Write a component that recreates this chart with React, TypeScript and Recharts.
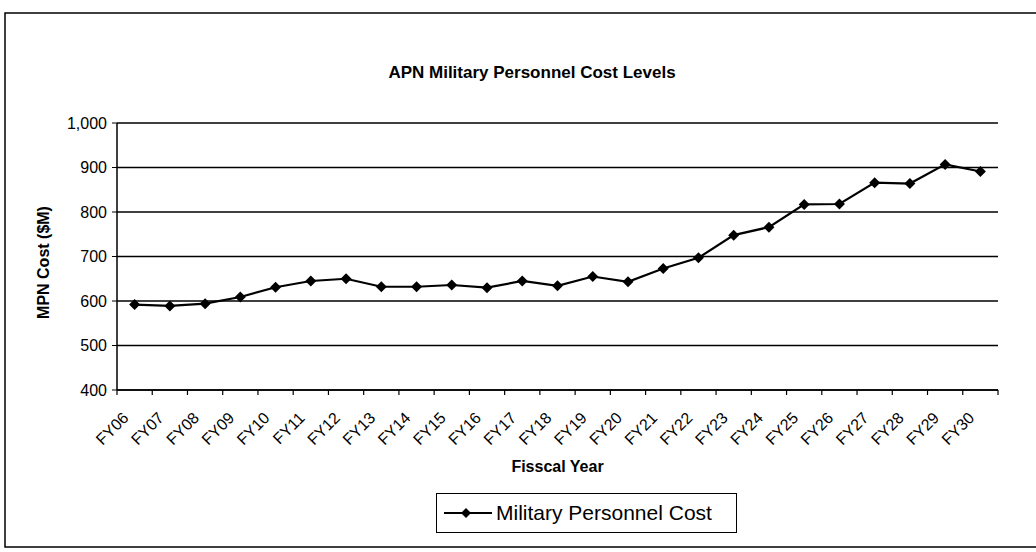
import React from 'react'
import { LineChart, Line, XAxis, YAxis, CartesianGrid, Legend } from 'recharts'

const years = [
  'FY06', 'FY07', 'FY08', 'FY09', 'FY10', 'FY11', 'FY12', 'FY13', 'FY14', 'FY15',
  'FY16', 'FY17', 'FY18', 'FY19', 'FY20', 'FY21', 'FY22', 'FY23', 'FY24', 'FY25',
  'FY26', 'FY27', 'FY28', 'FY29', 'FY30',
]
// MPN cost in $M
const mpnCost = [
  592, 589, 594, 609, 631, 645, 650, 632, 632, 636,
  630, 645, 634, 655, 643, 673, 697, 748, 766, 817,
  818, 866, 864, 907, 891,
]
const yTicks = [400, 500, 600, 700, 800, 900, 1000]

const FONT = '"Liberation Sans", Arial, Helvetica, sans-serif'

const data = years.map((year, i) => ({ year, cost: mpnCost[i] }))

function formatCost(v: number) {
  return v.toLocaleString('en-US')
}

function Diamond(props: any) {
  const { cx, cy } = props
  if (cx == null || cy == null) return null
  const r = 5.5
  return <path d={`M${cx},${cy - r}L${cx + r},${cy}L${cx},${cy + r}L${cx - r},${cy}Z`} fill="#000" />
}

// rotated year labels, tick marks sit between categories like Excel
function YearTick(props: any) {
  const { x, y, payload, index, width, visibleTicksCount } = props
  const half = payload?.offset || (width && visibleTicksCount ? width / visibleTicksCount / 2 : 0)
  const last = index === years.length - 1
  const tx = x - 5
  const ty = y + 29
  return (
    <g>
      <line x1={x - half} x2={x - half} y1={y} y2={y + 5} stroke="#000" strokeWidth={1.2} />
      {last && <line x1={x + half} x2={x + half} y1={y} y2={y + 5} stroke="#000" strokeWidth={1.2} />}
      <text
        x={tx}
        y={ty}
        transform={`rotate(-45, ${tx}, ${ty})`}
        textAnchor="end"
        fontSize={16}
        fontFamily={FONT}
        fill="#000"
      >
        {payload.value}
      </text>
    </g>
  )
}

function YLabel(props: any) {
  const vb = props.viewBox
  const x = vb.x - 14
  const y = vb.y + vb.height / 2 + 6
  return (
    <text x={x} y={y} transform={`rotate(-90, ${x}, ${y})`} textAnchor="middle" dominantBaseline="central"
      fontSize={16} fontWeight="bold" fontFamily={FONT} fill="#000">
      MPN Cost ($M)
    </text>
  )
}

function XLabel(props: any) {
  const vb = props.viewBox
  return (
    <text x={vb.x + vb.width / 2} y={vb.y + 82} textAnchor="middle"
      fontSize={16} fontWeight="bold" fontFamily={FONT} fill="#000">
      Fisscal Year
    </text>
  )
}

function LegendBox(props: any) {
  const item = props.payload?.[0]
  return (
    <div
      style={{
        boxSizing: 'border-box', width: 301, height: 40, border: '1px solid #000',
        display: 'flex', alignItems: 'center', paddingLeft: 6,
        fontFamily: FONT, fontSize: 21, color: '#000', background: '#fff',
      }}
    >
      <svg width={50} height={14} style={{ marginRight: 3 }}>
        <line x1={1} x2={49} y1={7} y2={7} stroke="#000" strokeWidth={2} />
        <path d="M23,2L28,7L23,12L18,7Z" fill="#000" />
      </svg>
      <span>{item?.value}</span>
    </div>
  )
}

export default function App() {
  return (
    <div style={{ position: 'relative', width: 1036, height: 552, overflow: 'hidden', background: '#fff', fontFamily: FONT }}>
      <style>{'body{margin:0}'}</style>
      <LineChart width={1036} height={552} data={data} margin={{ top: 123, right: 38, bottom: 77, left: 57 }}>
        <CartesianGrid vertical={false} stroke="#000" strokeWidth={1.5} />
        <XAxis
          dataKey="year"
          scale="band"
          interval={0}
          height={85}
          tickSize={0}
          tickMargin={0}
          tickLine={false}
          axisLine={{ stroke: '#000', strokeWidth: 1.5 }}
          tick={<YearTick />}
          label={<XLabel />}
        />
        <YAxis
          domain={[400, 1000]}
          ticks={yTicks}
          width={60}
          tickSize={5}
          tickMargin={5}
          tickFormatter={formatCost}
          tickLine={{ stroke: '#000' }}
          axisLine={{ stroke: '#000', strokeWidth: 1.5 }}
          tick={{ fontSize: 16, fill: '#000', fontFamily: FONT }}
          label={<YLabel />}
        />
        <YAxis
          yAxisId="r"
          orientation="right"
          domain={[400, 1000]}
          width={0}
          tick={false}
          tickLine={false}
          axisLine={{ stroke: '#000', strokeWidth: 1.5 }}
        />
        <Legend
          layout="horizontal"
          verticalAlign="middle"
          align="center"
          content={<LegendBox />}
          wrapperStyle={{ left: 436, top: 493, width: 301, height: 40 }}
        />
        <Line
          type="linear"
          dataKey="cost"
          name="Military Personnel Cost"
          stroke="#000"
          strokeWidth={2.2}
          dot={<Diamond />}
          activeDot={false}
          legendType="diamond"
          isAnimationActive={false}
        />
      </LineChart>
      <svg width={1036} height={552} style={{ position: 'absolute', left: 0, top: 0, pointerEvents: 'none' }}>
        <rect x={5} y={13} width={1100} height={534} fill="none" stroke="#000" strokeWidth={1.5} />
        <text x={532} y={78} textAnchor="middle" fontSize={17} fontWeight="bold" fontFamily={FONT} fill="#000">
          APN Military Personnel Cost Levels
        </text>
      </svg>
    </div>
  )
}
